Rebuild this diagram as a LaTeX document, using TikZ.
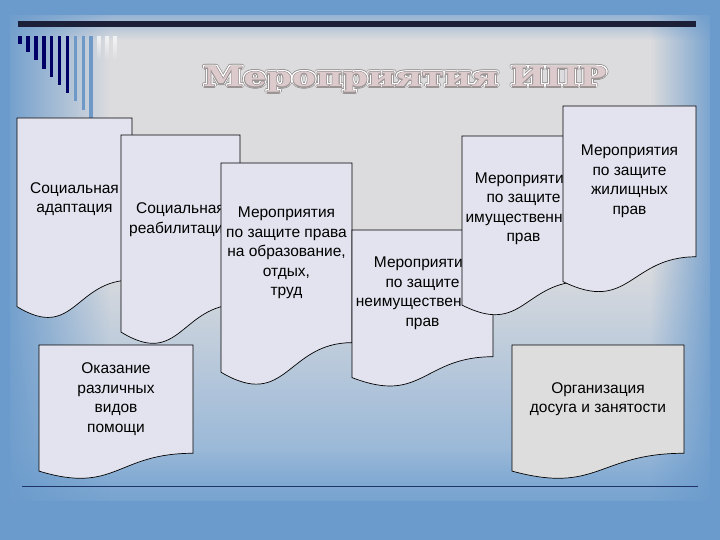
\documentclass[tikz,border=0pt]{standalone}
\usepackage{fontspec}
\setmainfont{Liberation Sans}
\newfontfamily\titlefont{DejaVu Serif}
\usepackage[copies]{contour}
\usetikzlibrary{fadings}

\definecolor{bgblue}{HTML}{6B9BCC}
\definecolor{panelgray}{HTML}{DCDCDE}
\definecolor{boxfill}{HTML}{E3E3EF}
\definecolor{boxgray}{HTML}{DDDDDD}
\definecolor{barnavy}{HTML}{000066}
\definecolor{barblue}{HTML}{6E98C8}
\definecolor{bandnavy}{HTML}{1C1F38}
\definecolor{linenavy}{HTML}{1F3466}
\definecolor{titlegray}{HTML}{9A9494}
\definecolor{titlefill}{HTML}{DCCACC}

\tikzset{
  docline/.style={draw=black, line width=0.7pt},
  boxtext/.style={align=center, inner sep=0pt, font=\fontsize{15.5}{19.5}\selectfont},
  titletext/.style={inner sep=0pt, font=\titlefont\bfseries\fontsize{27.5}{30}\selectfont},
}

% document shape: name, left, top, width, height, fill, text
\newcommand{\docbox}[7]{%
  \begin{scope}[shift={(#2,#3)}]
    \filldraw[docline, fill=#6] (0,0) -- (#4,0) -- (#4,0.802*#5)
      .. controls (0.5*#4,0.802*#5) and (0.5*#4,1.1075*#5) .. (0,0.934*#5) -- cycle;
    \node[boxtext] (#1) at (0.5*#4,0.401*#5) {#7};
  \end{scope}}

\begin{document}
\begin{tikzpicture}[x=1pt, y=-1pt]
  \useasboundingbox (0,0) rectangle (720,540);

  % background
  \fill[bgblue] (0,0) rectangle (720,540);
  \fill[panelgray] (10,15) rectangle (710,260);
  \shade[top color=panelgray, bottom color=bgblue!80!white] (10,260) rectangle (710,500);
  \fill[bgblue, path fading=north] (0,450) rectangle (720,540);
  \fill[bgblue, path fading=east] (0,0) rectangle (110,540);
  \fill[bgblue, path fading=west] (650,0) rectangle (720,540);
  \fill[bgblue, path fading=south] (0,0) rectangle (720,40);

  % top band and bars
  \fill[bandnavy] (18,21) rectangle (696,27);
  \foreach \i in {0,...,6}
    \fill[barnavy] (18.3+7.9*\i,36) rectangle ++(3.5,8+8.2*\i);
  \foreach \i in {7,8,9}
    \fill[barblue] (18.3+7.9*\i,36) rectangle ++(3.5,8+8.2*\i);
  \foreach \i in {10,11,12}
    \fill[white, opacity=0.7, path fading=south] (18.3+7.9*\i,36) rectangle ++(3.5,24);

  % title
  \node[titletext, text=titlegray] (titleback) at (405,80)
    {\scalebox{1.32}[1]{\contourlength{2pt}\contour{titlegray}{Мероприятия ИПР}}};
  \node[titletext, text=white] (titlemid) at (405,80)
    {\scalebox{1.32}[1]{\contourlength{1.4pt}\contour{white}{Мероприятия ИПР}}};
  \node[titletext, text=titlefill] (title) at (405,80)
    {\scalebox{1.32}[1]{\contourlength{0.45pt}\contour{titlegray}{Мероприятия ИПР}}};

  % boxes
  \docbox{adapt}{17}{118}{115}{202}{boxfill}{Социальная\\адаптация}
  \docbox{rehab}{121}{135}{119}{211}{boxfill}{Социальная\\реабилитация}
  \docbox{educ}{221}{163}{131}{224}{boxfill}{Мероприятия\\по защите права\\на образование,\\отдых,\\труд}
  \docbox{nonprop}{352}{230}{141}{158}{boxfill}{Мероприятия\\по защите\\неимущественных\\прав}
  \docbox{prop}{462}{136}{123}{181}{boxfill}{Мероприятия\\по защите\\имущественных\\прав}
  \docbox{housing}{563}{106}{133}{188}{boxfill}{Мероприятия\\по защите\\жилищных\\прав}
  \docbox{help}{39}{345}{154}{135}{boxfill}{Оказание\\различных\\видов\\помощи}
  \docbox{leisure}{512}{345}{172}{135}{boxgray}{Организация\\досуга и занятости}

  % bottom line
  \draw[linenavy, line width=1pt] (22,486) -- (698,486);
\end{tikzpicture}
\end{document}
